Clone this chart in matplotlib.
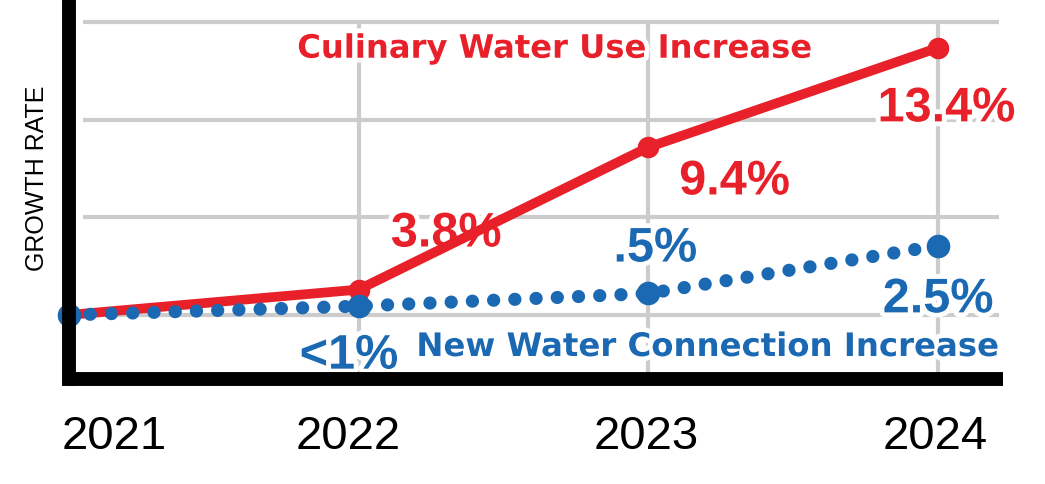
import matplotlib.pyplot as plt
import matplotlib.patheffects as pe
from matplotlib.transforms import ScaledTranslation

# values (units = gridline steps of 5)
years = [2021, 2022, 2023, 2024]
culinary = [0.0, 1.3, 8.6, 13.7]
connections = [0.0, 0.45, 1.1, 3.55]
culinary_labels = ["", "3.8%", "9.4%", "13.4%"]
connection_labels = ["", "<1%", ".5%", "2.5%"]
grid_levels = [0, 5, 10, 15]

RED = "#E8202A"
BLUE = "#1B69B2"
GRID = "#CCCCCC"

plt.rcParams["font.family"] = ["Liberation Sans", "DejaVu Sans"]

fig = plt.figure(figsize=(10.45, 4.85), dpi=100)
ax = fig.add_axes([0.066, 0.2155, 0.8938, 0.7845])
ax.set_xlim(2021.014, 2024.224)
ax.set_ylim(-3.31, 16.2)

# grid
ax.hlines(grid_levels, 2021.05, 2024.21, color=GRID, lw=3, zorder=0)
ax.vlines(years[1:], -3.31, 15.1, color=GRID, lw=3, zorder=0)

# lines
ax.plot(years, culinary, color=RED, lw=7, marker="o", ms=14.5,
        solid_capstyle="round", zorder=3, clip_on=False)
ax.plot(years, connections, color=BLUE, lw=9.5, linestyle=(0, (0.01, 1.6)),
        dash_capstyle="round", zorder=4, clip_on=False)
ax.plot(years, connections, color=BLUE, lw=0, marker="o", ms=16,
        zorder=4, clip_on=False)

outline = [pe.withStroke(linewidth=7, foreground="white")]

# value labels
red_offsets = [(0, 0), (63, 40), (62, -25), (6, -44)]
blue_offsets = [(0, 0), (-7, -36), (5, 32), (0, -39)]
for i in range(1, 4):
    ax.annotate(culinary_labels[i], (years[i], culinary[i]), xytext=red_offsets[i],
                textcoords="offset points", ha="center", va="center",
                fontsize=35, fontweight="bold", color=RED, zorder=2,
                path_effects=outline)
    ax.annotate(connection_labels[i], (years[i], connections[i]), xytext=blue_offsets[i],
                textcoords="offset points", ha="center", va="center",
                fontsize=35, fontweight="bold", color=BLUE, zorder=2,
                path_effects=outline)

# series names
ax.text(0.52, 0.868, "Culinary Water Use Increase", transform=ax.transAxes,
        ha="center", va="center", fontsize=23.2, fontweight="bold",
        family=["DejaVu Sans"], color=RED, path_effects=outline, zorder=2)
ax.text(0.684, 0.084, "New Water Connection Increase", transform=ax.transAxes,
        ha="center", va="center", fontsize=23.3, fontweight="bold",
        family=["DejaVu Sans"], color=BLUE, path_effects=outline, zorder=2)

# axes styling
for side in ["top", "right"]:
    ax.spines[side].set_visible(False)
for side in ["left", "bottom"]:
    ax.spines[side].set_linewidth(10)
    ax.spines[side].set_color("black")
    ax.spines[side].set_zorder(5)
ax.spines["left"].set_capstyle("projecting")
ax.spines["bottom"].set_capstyle("butt")

ax.set_yticks([])
ax.set_xticks(years)
ax.set_xticklabels([str(y) for y in years], fontsize=34)
ax.tick_params(axis="x", length=0, pad=25)
label_shift = [45, -10, -2, -3]
for lab, dx in zip(ax.get_xticklabels(), label_shift):
    lab.set_transform(lab.get_transform() + ScaledTranslation(dx / 100, 0, fig.dpi_scale_trans))

fig.text(37 / 1045, 1 - 178 / 485, "GROWTH RATE", rotation=90, ha="center",
         va="center", fontsize=18)

fig.savefig("out.png", dpi=100)
